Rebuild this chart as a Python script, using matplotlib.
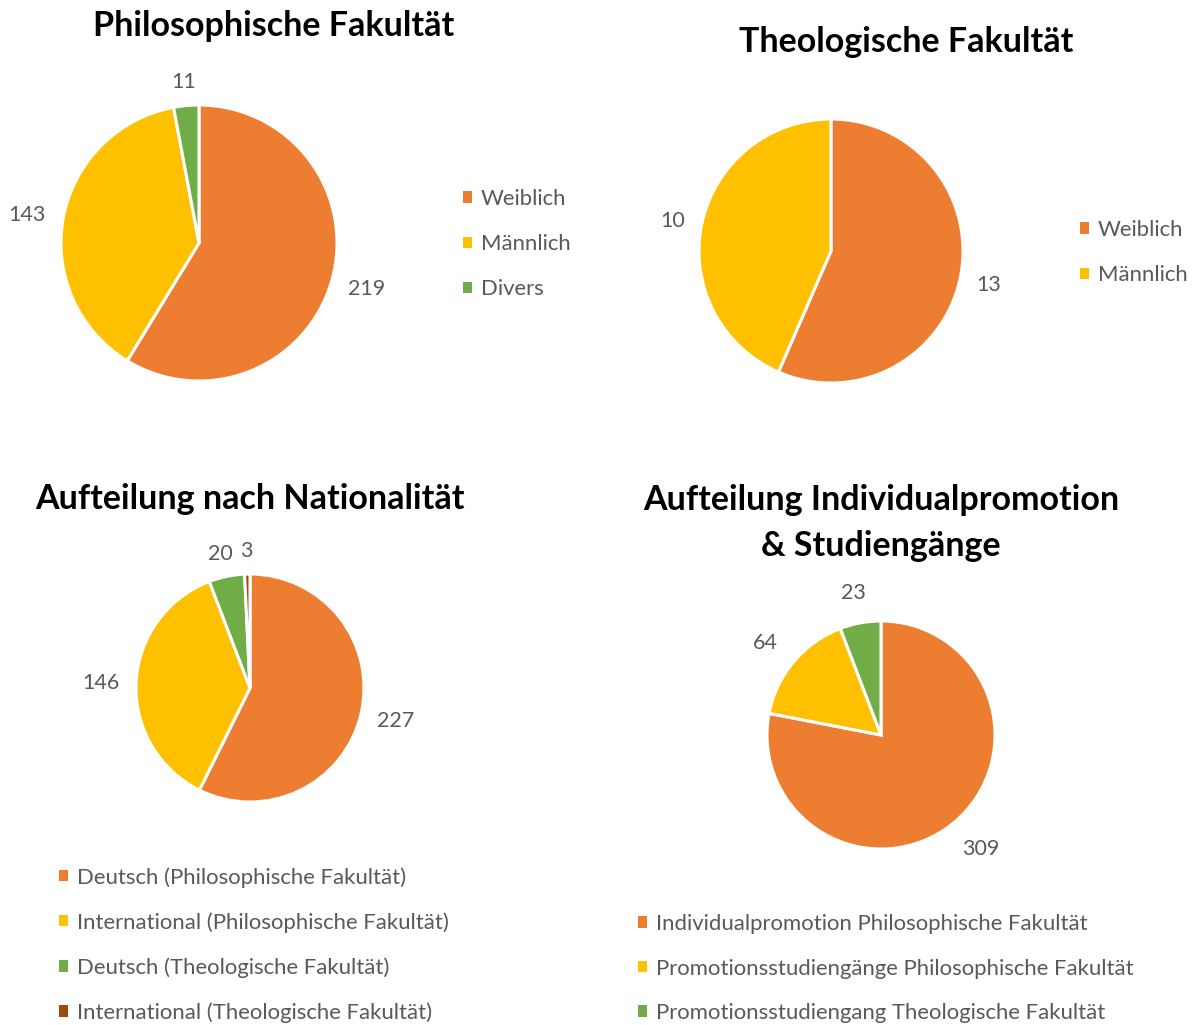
import matplotlib
matplotlib.use("Agg")
import matplotlib.pyplot as plt
from matplotlib.patches import Patch
import numpy as np

plt.rcParams['font.family'] = ['Lato', 'DejaVu Sans']

# ---- data ----
phil_labels = ["Weiblich", "Männlich", "Divers"]
phil_values = [219, 143, 11]

theo_labels = ["Weiblich", "Männlich"]
theo_values = [13, 10]

nat_labels = ["Deutsch (Philosophische Fakultät)", "International (Philosophische Fakultät)",
              "Deutsch (Theologische Fakultät)", "International (Theologische Fakultät)"]
nat_values = [227, 146, 20, 3]

prom_labels = ["Individualpromotion Philosophische Fakultät",
               "Promotionsstudiengänge Philosophische Fakultät",
               "Promotionsstudiengang Theologische Fakultät"]
prom_values = [309, 64, 23]

titles = ["Philosophische Fakultät", "Theologische Fakultät",
          "Aufteilung nach Nationalität", "Aufteilung Individualpromotion\n& Studiengänge"]

colors = ["#ED7D31", "#FFC000", "#70AD47", "#9E480E"]
TXT = "#595959"
LFS = 15.5
GFS = 15.9
TFS = 24.5

W, H = 1200, 1025
fig = plt.figure(figsize=(W / 100, H / 100), dpi=100)
renderer = fig.canvas.get_renderer()


def fx(px):
    return px / W


def fy(py):
    return 1 - py / H


def draw_pie(values, cx, cy, r, gap_px):
    ax = fig.add_axes([fx(cx - r), fy(cy + r), 2 * r / W, 2 * r / H])
    wedges, _ = ax.pie(values, colors=colors[:len(values)], startangle=90, counterclock=False,
                       radius=1.0, wedgeprops=dict(edgecolor="white", linewidth=2.2))
    ax.set_xlim(-1, 1)
    ax.set_ylim(-1, 1)
    ax.set_aspect("equal")
    ax.axis("off")
    total = sum(values)
    start = 90.0
    cap_half = 0.72 * LFS * 100 / 72 / 2  # half cap height in px
    for v in values:
        span = v / total * 360
        mid = np.deg2rad(start - span / 2)
        start -= span
        ux, uy = np.cos(mid), np.sin(mid)
        t = ax.text(0, 0, str(v), ha="center", va="baseline",
                    fontsize=LFS, color=TXT, clip_on=False)
        hw = t.get_window_extent(renderer=renderer).width / 2
        px_x = (r + gap_px) * ux + hw * ux
        px_y = (r + gap_px) * uy + cap_half * uy
        t.set_position((px_x / r, (px_y - cap_half) / r))
    return ax


def draw_legend(labels, x, y_top, spacing):
    handles = [Patch(facecolor=c, edgecolor="none") for c in colors[:len(labels)]]
    fig.legend(handles, labels, loc="upper left", bbox_to_anchor=(fx(x), fy(y_top)),
               frameon=False, fontsize=GFS, labelcolor=TXT, handlelength=0.41,
               handleheight=0.41, handletextpad=0.4, labelspacing=spacing,
               borderpad=0, borderaxespad=0)


draw_pie(phil_values, 199, 243, 138, 18)
draw_pie(theo_values, 831, 251, 132, 17)
draw_pie(nat_values, 250, 688, 114, 17)
draw_pie(prom_values, 881, 735, 114, 24)

fig.text(fx(274), fy(26), titles[0], ha="center", va="center", fontsize=TFS, fontweight="bold", color="black")
fig.text(fx(906), fy(42), titles[1], ha="center", va="center", fontsize=TFS, fontweight="bold", color="black")
fig.text(fx(250), fy(499), titles[2], ha="center", va="center", fontsize=TFS, fontweight="bold", color="black")
fig.text(fx(881), fy(523), titles[3], ha="center", va="center", fontsize=TFS, fontweight="bold",
         color="black", linespacing=1.56)

draw_legend(phil_labels, 463, 189, 1.14)
draw_legend(theo_labels, 1080, 220, 1.14)
draw_legend(nat_labels, 59, 867, 1.11)
draw_legend(prom_labels, 638, 914, 1.11)

fig.savefig("out.png", dpi=100, facecolor="white")
